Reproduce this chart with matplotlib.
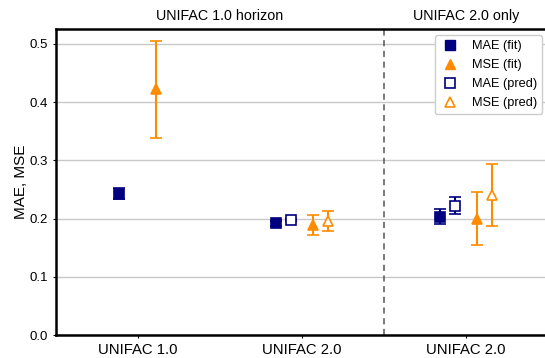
import matplotlib
matplotlib.use("Agg")
import matplotlib.pyplot as plt
from matplotlib.lines import Line2D

plt.rcParams['font.family'] = ['Liberation Sans', 'DejaVu Sans']

# group positions and labels
groups = ["UNIFAC 1.0", "UNIFAC 2.0", "UNIFAC 2.0"]
group_x = [0, 1, 2]

# values (value, error half-width)
mae_fit = [0.243, 0.192, 0.203]
mae_fit_err = [0.0095, 0.004, 0.013]
mse_fit = [0.422, 0.189, 0.200]
mse_fit_err = [0.083, 0.017, 0.045]
mae_pred = [None, 0.197, 0.222]
mae_pred_err = [None, 0.002, 0.015]
mse_pred = [None, 0.196, 0.240]
mse_pred_err = [None, 0.017, 0.053]

# horizontal offsets within each group
offsets = {
    "mae_fit": [-0.115, -0.16, -0.16],
    "mae_pred": [None, -0.07, -0.07],
    "mse_fit": [0.11, 0.065, 0.07],
    "mse_pred": [None, 0.16, 0.16],
}

navy = "#000080"
orange = "#ff8c00"

fig = plt.figure(figsize=(5.45, 3.58), dpi=100)
ax = fig.add_axes([56 / 545, 23 / 358, 492 / 545, 305.7 / 358])


def draw(vals, errs, offs, marker, color, filled):
    xs, ys, es = [], [], []
    for g, v, e, o in zip(group_x, vals, errs, offs):
        if v is None:
            continue
        xs.append(g + o)
        ys.append(v)
        es.append(e)
    ax.errorbar(xs, ys, yerr=es, fmt=marker, color=color, ecolor=color,
                markerfacecolor=color if filled else "white",
                markeredgecolor=color, markersize=7, capsize=4,
                elinewidth=1.5, capthick=1.5, markeredgewidth=1.2,
                zorder=3)


draw(mae_fit, mae_fit_err, offsets["mae_fit"], "s", navy, True)
draw(mse_fit, mse_fit_err, offsets["mse_fit"], "^", orange, True)
draw(mae_pred, mae_pred_err, offsets["mae_pred"], "s", navy, False)
draw(mse_pred, mse_pred_err, offsets["mse_pred"], "^", orange, False)

ax.axvline(1.5, color="#555555", linestyle=(0, (4, 3)), linewidth=1.1, zorder=1)

ax.set_xlim(-0.5, 2.5)
ax.set_ylim(0, 0.525)
ax.set_xticks(group_x)
ax.set_xticklabels(groups, fontsize=10.7)
ax.set_yticks([0.0, 0.1, 0.2, 0.3, 0.4, 0.5])
ax.tick_params(axis="y", labelsize=9.5, length=2.5, pad=3)
ax.tick_params(axis="x", length=2.5, pad=3)
ax.set_ylabel("MAE, MSE", fontsize=11, labelpad=1)
ax.yaxis.grid(True, color="#c8c8c8", linewidth=1)
ax.set_axisbelow(True)

for side in ["left", "bottom", "top"]:
    ax.spines[side].set_linewidth(1.8)
ax.spines["right"].set_visible(False)

ax.text(0.5, 0.536, "UNIFAC 1.0 horizon", ha="center", va="bottom", fontsize=10.3)
ax.text(2.0, 0.536, "UNIFAC 2.0 only", ha="center", va="bottom", fontsize=10.3)

handles = [
    Line2D([], [], linestyle="none", marker="s", color=navy, markersize=7),
    Line2D([], [], linestyle="none", marker="^", color=orange, markersize=7),
    Line2D([], [], linestyle="none", marker="s", color=navy, markerfacecolor="white",
           markeredgewidth=1.2, markersize=7),
    Line2D([], [], linestyle="none", marker="^", color=orange, markerfacecolor="white",
           markeredgewidth=1.2, markersize=7),
]
labels = ["MAE (fit)", "MSE (fit)", "MAE (pred)", "MSE (pred)"]
ax.legend(handles, labels, loc="upper right", fontsize=9.2, framealpha=1,
          edgecolor="#cccccc", handletextpad=0.9, handlelength=1.6,
          borderaxespad=0.45, labelspacing=0.55)

fig.savefig("out.png", dpi=100)
